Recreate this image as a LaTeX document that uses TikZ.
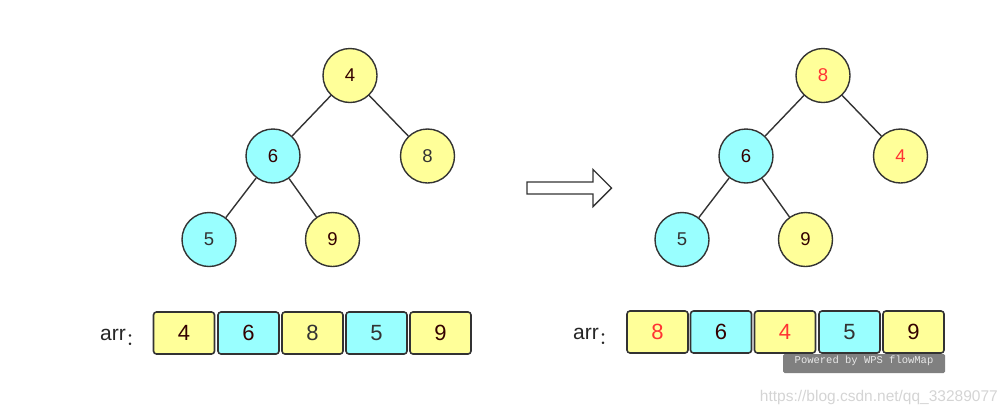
\documentclass[tikz,border=0pt]{standalone}
\usepackage{fontspec}
\setmainfont{Liberation Sans}
\newfontfamily\wmono{Liberation Mono}
\newfontfamily\cjk{Noto Sans CJK SC}
\definecolor{yel}{HTML}{FFFF99}
\definecolor{cya}{HTML}{99FFFF}
\definecolor{bord}{HTML}{333333}
\definecolor{dred}{HTML}{330000}
\definecolor{dgray}{HTML}{333333}
\definecolor{hred}{HTML}{FF3333}
\definecolor{wmbox}{HTML}{808080}
\definecolor{wmtext}{HTML}{E8E8E8}
\definecolor{urlgray}{HTML}{D4D4D4}
\newcommand{\lowcolon}{\raisebox{-5pt}{\cjk\fontsize{17}{17}\selectfont ：}}
\tikzset{
  vtx/.style={circle, draw=bord, line width=1.4pt, minimum size=54pt, inner sep=0pt, font=\fontsize{18.5}{18.5}\selectfont},
  yv/.style={vtx, fill=yel},
  cv/.style={vtx, fill=cya},
  cell/.style={rectangle, rounded corners=3pt, draw=bord, line width=1.6pt, minimum width=61pt, minimum height=42pt, inner sep=0pt, font=\fontsize{22}{22}\selectfont},
  ycell/.style={cell, fill=yel},
  ccell/.style={cell, fill=cya},
  edge/.style={draw=bord, line width=1.4pt},
  lbl/.style={font=\fontsize{21}{21}\selectfont, text=black!85, inner sep=0pt}
}
\begin{document}
\begin{tikzpicture}[x=1pt,y=-1pt]
\useasboundingbox (0,0) rectangle (1006,416);
% left tree
\node[yv, text=dred]  (a4) at (350,75.5) {4};
\node[cv, text=dred]  (a6) at (273,156) {6};
\node[yv, text=dgray] (a8) at (427.5,156) {8};
\node[cv, text=dgray] (a5) at (209,239.5) {5};
\node[yv, text=dred]  (a9) at (332.5,239.5) {9};
\draw[edge] (a4) -- (a6);
\draw[edge] (a4) -- (a8);
\draw[edge] (a6) -- (a5);
\draw[edge] (a6) -- (a9);
% right tree
\node[yv, text=hred]  (b8) at (823,75.5) {8};
\node[cv, text=dred]  (b6) at (746,156) {6};
\node[yv, text=hred]  (b4) at (900.5,156) {4};
\node[cv, text=dgray] (b5) at (682,239.5) {5};
\node[yv, text=dred]  (b9) at (805.5,239.5) {9};
\draw[edge] (b8) -- (b6);
\draw[edge] (b8) -- (b4);
\draw[edge] (b6) -- (b5);
\draw[edge] (b6) -- (b9);
% arrow
\draw[draw=bord, line width=1.4pt, fill=white, line join=miter]
  (527,182) -- (593,182) -- (593,169.5) -- (611.5,188) -- (593,206.5) -- (593,194) -- (527,194) -- cycle;
% left array
\node[lbl, anchor=base west] (la) at (100,340) {arr\lowcolon};
\node[ycell, text=dred]  (l1) at (184,333) {4};
\node[ccell, text=dred]  (l2) at (248.5,333) {6};
\node[ycell, text=dgray] (l3) at (312.5,333) {8};
\node[ccell, text=dgray] (l4) at (376.5,333) {5};
\node[ycell, text=dred]  (l5) at (440.5,333) {9};
% right array
\node[lbl, anchor=base west] (ra) at (573,339) {arr\lowcolon};
\node[ycell, text=hred]  (r1) at (657.5,332) {8};
\node[ccell, text=dred]  (r2) at (721,332) {6};
\node[ycell, text=hred]  (r3) at (785,332) {4};
\node[ccell, text=dgray] (r4) at (849.5,332) {5};
\node[ycell, text=dred]  (r5) at (913.5,332) {9};
% watermarks
\fill[wmbox, rounded corners=1.5pt] (783,354) rectangle (945,373);
\node[font=\wmono\fontsize{10.5}{10.5}\selectfont, text=wmtext, inner sep=0pt] (wm) at (864,361) {Powered by WPS flowMap};
\node[font=\fontsize{15.5}{15.5}\selectfont, text=urlgray, anchor=east, inner sep=0pt] (url) at (998,397.5) {https://blog.csdn.net/qq\_33289077};
\end{tikzpicture}
\end{document}
